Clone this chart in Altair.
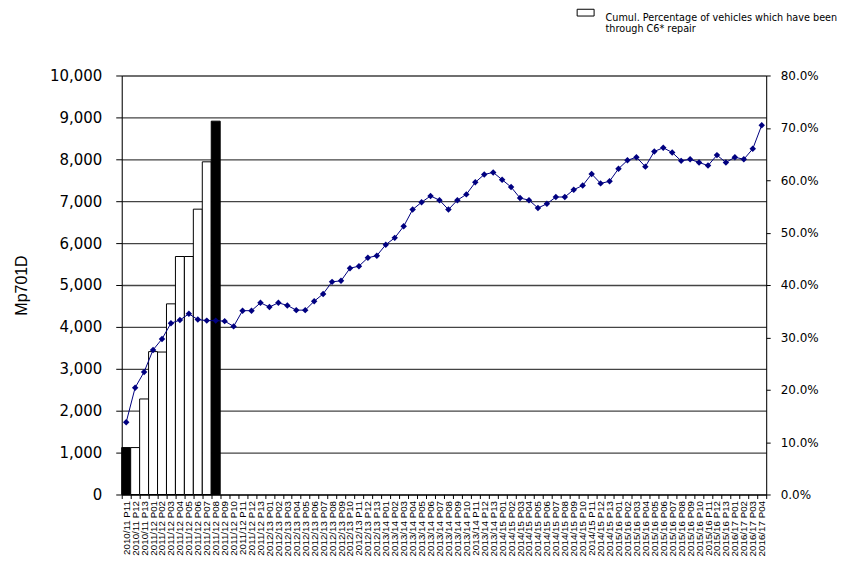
import altair as alt
import pandas as pd

# ---- data ----
years = [("2010/11", range(11, 14)), ("2011/12", range(1, 14)), ("2012/13", range(1, 14)),
         ("2013/14", range(1, 14)), ("2014/15", range(1, 14)), ("2015/16", range(1, 14)),
         ("2016/17", range(1, 5))]
categories = [f"{y} P{p:02d}" for y, ps in years for p in ps]

bar_categories = categories[:11]
bar_values = [1120, 1120, 2280, 3410, 3400, 4550, 5680, 5680, 6810, 7940, 8910]
bar_kind = ["Highlighted", "Cumul", "Cumul", "Cumul", "Cumul", "Cumul", "Cumul", "Cumul",
            "Cumul", "Cumul", "Highlighted"]

pct_values = [13.8, 20.4, 23.4, 27.6, 29.7, 32.7, 33.3, 34.5, 33.4, 33.2, 33.2, 33.1, 32.1,
              35.1, 35.1, 36.6, 35.8, 36.6, 36.1, 35.2, 35.2, 36.9, 38.3, 40.6, 40.8, 43.2,
              43.6, 45.2, 45.6, 47.7, 49.0, 51.2, 54.4, 55.8, 57.0, 56.2, 54.4, 56.2, 57.3,
              59.6, 61.1, 61.5, 60.1, 58.7, 56.6, 56.2, 54.7, 55.5, 56.8, 56.8, 58.2, 59.0,
              61.2, 59.4, 59.8, 62.2, 63.8, 64.4, 62.6, 65.5, 66.2, 65.3, 63.7, 64.0, 63.4,
              62.8, 64.8, 63.4, 64.4, 64.0, 66.0, 70.5]

legend_label = "Cumul. Percentage of vehicles which have been through C6* repair"

bars_df = pd.DataFrame({"period": bar_categories, "value": bar_values,
                        "kind": [legend_label if k == "Cumul" else k for k in bar_kind]})
line_df = pd.DataFrame({"period": categories, "pct": pct_values})

FONT = "Liberation Sans"

x_enc = alt.X("period:N", sort=categories, scale=alt.Scale(domain=categories, paddingInner=0, paddingOuter=0),
              axis=alt.Axis(title=None, labelAngle=270, labelFontSize=9.8, labelFont=FONT,
                            labelColor="black", labelPadding=2, tickBand="extent", tickSize=4,
                            tickColor="black", domainColor="black", labelOverlap=False,
                            grid=False))

bars = alt.Chart(bars_df).mark_bar(stroke="black", strokeWidth=1, opacity=1).encode(
    x=x_enc,
    y=alt.Y("value:Q", scale=alt.Scale(domain=[0, 10000], nice=False),
            axis=alt.Axis(title="Mp701D", titleFont=FONT, titleFontSize=16, titleFontWeight="normal",
                          titleColor="black", titlePadding=20,
                          values=list(range(0, 10001, 1000)), format=",d",
                          labelFont="DejaVu Sans", labelFontSize=15, labelColor="black",
                          labelPadding=14, tickSize=6, tickColor="black", domainColor="black",
                          grid=True, gridColor="#444444", gridWidth=1.3)),
    fill=alt.Fill("kind:N", scale=alt.Scale(domain=["Highlighted", legend_label], range=["black", "white"]),
                  legend=alt.Legend(values=[legend_label], title=None, orient="none",
                                    legendX=456, legendY=-72,
                                    symbolType="M-1,-0.4L1,-0.4L1,0.4L-1,0.4Z", symbolSize=289,
                                    symbolStrokeColor="black", symbolStrokeWidth=1,
                                    symbolFillColor="white",
                                    labelExpr="['Cumul. Percentage of vehicles which have been', 'through C6* repair']",
                                    labelFont="DejaVu Sans", labelFontSize=9.7, labelColor="black",
                                    labelLimit=400, labelOffset=11, labelBaseline="top")),
)

right_y = alt.Y("pct:Q", scale=alt.Scale(domain=[0, 80], nice=False),
                axis=alt.Axis(title=None, orient="right", values=list(range(0, 81, 10)),
                              labelExpr="format(datum.value, '.1f') + '%'",
                              labelFont="DejaVu Sans", labelFontSize=12, labelColor="black",
                              labelPadding=10, tickSize=4, tickColor="black", domainColor="black",
                              grid=False))

line = alt.Chart(line_df).mark_line(color="#000080", strokeWidth=1).encode(x=x_enc, y=right_y)
points = alt.Chart(line_df).mark_point(shape="diamond", filled=True, color="#000080", size=42, opacity=1).encode(
    x=x_enc, y=right_y)

chart = alt.layer(bars, line + points).resolve_scale(y="independent").properties(
    width=646, height=420,
    autosize=alt.AutoSizeParams(type="none"),
    padding={"left": 114, "top": 67, "right": 80, "bottom": 67},
).configure_view(stroke=None).configure(background="white")

chart.save("out.html", embed_options={"renderer": "svg", "actions": False})
